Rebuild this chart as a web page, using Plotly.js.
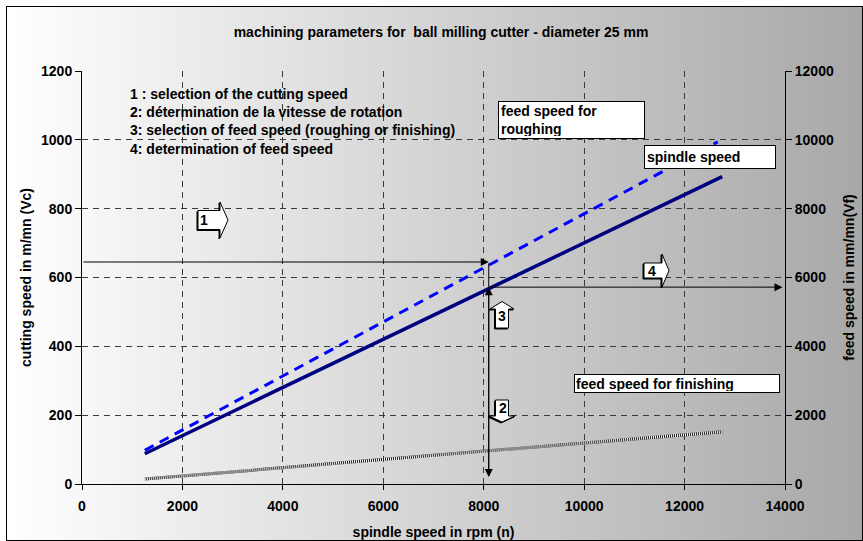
<!DOCTYPE html>
<html><head><meta charset="utf-8">
<script src="https://cdn.plot.ly/plotly-3.0.1.min.js"></script>
<style>
html,body{margin:0;padding:0;background:#fff;}
#bg{position:absolute;left:6px;top:6px;width:855px;height:533px;border:1px solid #000;background:linear-gradient(to right,#ffffff 0%,#a8a8a8 100%);}
#chart{position:absolute;left:0;top:0;width:863px;height:541px;}
</style></head><body>
<div id="bg"></div><div id="chart"></div>
<script>
// ---- data ----
const spindleRpm = [1250, 12660];
const cuttingSpeedVc = [98, 994];           // dashed blue, left axis (m/mn)
const roughingRpm = [1250, 12750];
const roughingFeedVf = [880, 8930];         // solid navy, right axis (mm/mn)
const finishingRpm = [1250, 12750];
const finishingFeedVf = [145, 1520];        // hatched grey, right axis (mm/mn)

const xTicks = [0, 2000, 4000, 6000, 8000, 10000, 12000, 14000];
const yTicks = [0, 200, 400, 600, 800, 1000, 1200];
const y2Ticks = [0, 2000, 4000, 6000, 8000, 10000, 12000];

// reading example (arrows 1-4)
const selectedVc = 645;
const selectedRpm = 8100;
const resultVf = 5720;
const arrowBottomVc = 20;
const arrowRightRpm = 13950;

const steps = [
  '1 : selection of the cutting speed',
  '2: détermination de la vitesse de rotation',
  '3: selection of feed speed (roughing or finishing)',
  '4: determination of feed speed'
];
const chartTitle = 'machining parameters for\u00a0 ball milling cutter - diameter 25 mm';
const xTitle = 'spindle speed in rpm (n)';
const yTitle = 'cutting speed in m/mn (Vc)';
const y2Title = 'feed speed in mm/mn(Vf)';
const labelRoughing = 'feed speed for<br>roughing';
const labelSpindle = 'spindle speed';
const labelFinishing = 'feed speed for finishing';

// ---- layout helpers ----
const FAM = 'Arial, "Liberation Sans", sans-serif';
const L = 82, R = 785, T = 71, B = 484;
const px = v => (v - L) / (R - L);
const py = v => (B - v) / (B - T);
const fnt = {family: FAM, size: 14, color: '#000', weight: 'bold'};

const traces = [
  {x: spindleRpm, y: cuttingSpeedVc, mode: 'lines', yaxis: 'y',
   line: {color: '#0000ff', width: 3, dash: '10px,7px'}, hoverinfo: 'skip'},
  {x: roughingRpm, y: roughingFeedVf, mode: 'lines', yaxis: 'y2',
   line: {color: '#000080', width: 3.5}, hoverinfo: 'skip'},
  {x: finishingRpm, y: finishingFeedVf, mode: 'lines', yaxis: 'y2',
   line: {color: '#1a1a1a', width: 3}, hoverinfo: 'skip'},
  {x: finishingRpm, y: finishingFeedVf, mode: 'lines', yaxis: 'y2',
   line: {color: '#ffffff', width: 3, dash: '1px,1px'}, hoverinfo: 'skip'}
];

function blockArrow(cx, cy, path) {
  return [
    {type: 'path', xref: 'paper', yref: 'paper', xsizemode: 'pixel', ysizemode: 'pixel',
     xanchor: px(cx - 1), yanchor: py(cy + 1), path: path, fillcolor: '#000',
     line: {color: '#000', width: 1}, layer: 'above'},
    {type: 'path', xref: 'paper', yref: 'paper', xsizemode: 'pixel', ysizemode: 'pixel',
     xanchor: px(cx), yanchor: py(cy), path: path, fillcolor: '#fff',
     line: {color: '#000', width: 1}, layer: 'above'}
  ];
}
const rightArrowBig = 'M -15 9.5 L 7 9.5 L 7 18 L 15 0 L 7 -18 L 7 -9.5 L -15 -9.5 Z';
const rightArrowSmall = 'M -12 7.5 L 6 7.5 L 6 16.5 L 13 0 L 6 -16.5 L 6 -7.5 L -12 -7.5 Z';
const upArrow = 'M -6.5 -13 L -6.5 6 L -12 6 L 0 13.5 L 12 6 L 6.5 6 L 6.5 -13 Z';
const downArrow = 'M -6.5 10 L 6.5 10 L 6.5 -6 L 13 -6 L 0 -12 L -13 -6 L -6.5 -6 Z';

const shapes = [].concat(
  blockArrow(213, 220, rightArrowBig),
  blockArrow(656, 270.5, rightArrowSmall),
  blockArrow(502, 315, upArrow),
  blockArrow(502, 410, downArrow)
);

const arr = {showarrow: true, arrowhead: 2, arrowsize: 1.6, arrowwidth: 1, arrowcolor: '#000',
             text: '', standoff: 0, startstandoff: 0};
const num = (t, x, y) => ({x: px(x), y: py(y), xref: 'paper', yref: 'paper', xanchor: 'center',
  yanchor: 'middle', text: t, showarrow: false, font: fnt});
const annotations = [
  Object.assign({x: selectedRpm, y: selectedVc, ax: 0, ay: selectedVc,
    xref: 'x', yref: 'y', axref: 'x', ayref: 'y'}, arr),
  Object.assign({x: selectedRpm, y: arrowBottomVc, ax: selectedRpm, ay: selectedVc,
    xref: 'x', yref: 'y', axref: 'x', ayref: 'y'}, arr),
  Object.assign({x: selectedRpm, y: resultVf, ax: selectedRpm, ay: arrowBottomVc * 10,
    xref: 'x', yref: 'y2', axref: 'x', ayref: 'y2'}, arr),
  Object.assign({x: arrowRightRpm, y: resultVf, ax: selectedRpm, ay: resultVf,
    xref: 'x', yref: 'y2', axref: 'x', ayref: 'y2'}, arr),
  {x: px(128), y: py(122), xref: 'paper', yref: 'paper', xanchor: 'left', yanchor: 'middle',
   text: steps.join('<br>'), align: 'left', showarrow: false, font: fnt},
  {x: px(498), y: py(101), xref: 'paper', yref: 'paper', xanchor: 'left', yanchor: 'top',
   text: labelRoughing, align: 'left', showarrow: false, font: fnt,
   bgcolor: '#fff', bordercolor: '#000', borderwidth: 1, borderpad: 2, width: 141, height: 32},
  {x: px(644), y: py(145), xref: 'paper', yref: 'paper', xanchor: 'left', yanchor: 'top',
   text: labelSpindle, align: 'left', showarrow: false, font: fnt,
   bgcolor: '#fff', bordercolor: '#000', borderwidth: 1, borderpad: 2, width: 126, height: 18},
  {x: px(574), y: py(374), xref: 'paper', yref: 'paper', xanchor: 'left', yanchor: 'top',
   text: labelFinishing, align: 'left', showarrow: false, font: fnt,
   bgcolor: '#fff', bordercolor: '#000', borderwidth: 1, borderpad: 1, width: 202, height: 15},
  num('1', 203.5, 220),
  num('4', 651.5, 271),
  num('3', 502, 316),
  num('2', 502.5, 408)
];

const axCommon = {
  showline: true, linecolor: '#000', linewidth: 1, ticks: 'outside', tickcolor: '#000',
  tickwidth: 1, zeroline: false, fixedrange: true, tickfont: fnt
};

const layout = {
  width: 863, height: 541,
  margin: {l: L, r: 863 - R, t: T, b: 541 - B, pad: 0},
  paper_bgcolor: 'rgba(0,0,0,0)', plot_bgcolor: 'rgba(0,0,0,0)',
  showlegend: false,
  font: fnt,
  title: {text: chartTitle, x: 441 / 863, xref: 'container', xanchor: 'center',
          y: 1 - 32 / 541, yref: 'container', yanchor: 'middle', font: fnt},
  xaxis: Object.assign({}, axCommon, {
    range: [0, 14000], tickvals: xTicks, ticktext: xTicks.map(String), ticklen: 5,
    ticklabelstandoff: 4,
    showgrid: true, gridcolor: '#3a3a3a', gridwidth: 1, griddash: '6px,5px',
    title: {text: xTitle, font: fnt, standoff: 14}
  }),
  yaxis: Object.assign({}, axCommon, {
    range: [0, 1200], tickvals: yTicks, ticktext: yTicks.map(String), ticklen: 6,
    showgrid: true, gridcolor: '#3a3a3a', gridwidth: 1, griddash: '6px,5px',
    title: {text: yTitle, font: fnt, standoff: 6}
  }),
  yaxis2: Object.assign({}, axCommon, {
    range: [0, 12000], tickvals: y2Ticks, ticktext: y2Ticks.map(String), ticklen: 6,
    overlaying: 'y', side: 'right', showgrid: false,
    title: {text: y2Title, font: fnt, standoff: 11}
  }),
  shapes: shapes,
  annotations: annotations
};

Plotly.newPlot('chart', traces, layout, {displayModeBar: false, staticPlot: true});
</script>
</body></html>
